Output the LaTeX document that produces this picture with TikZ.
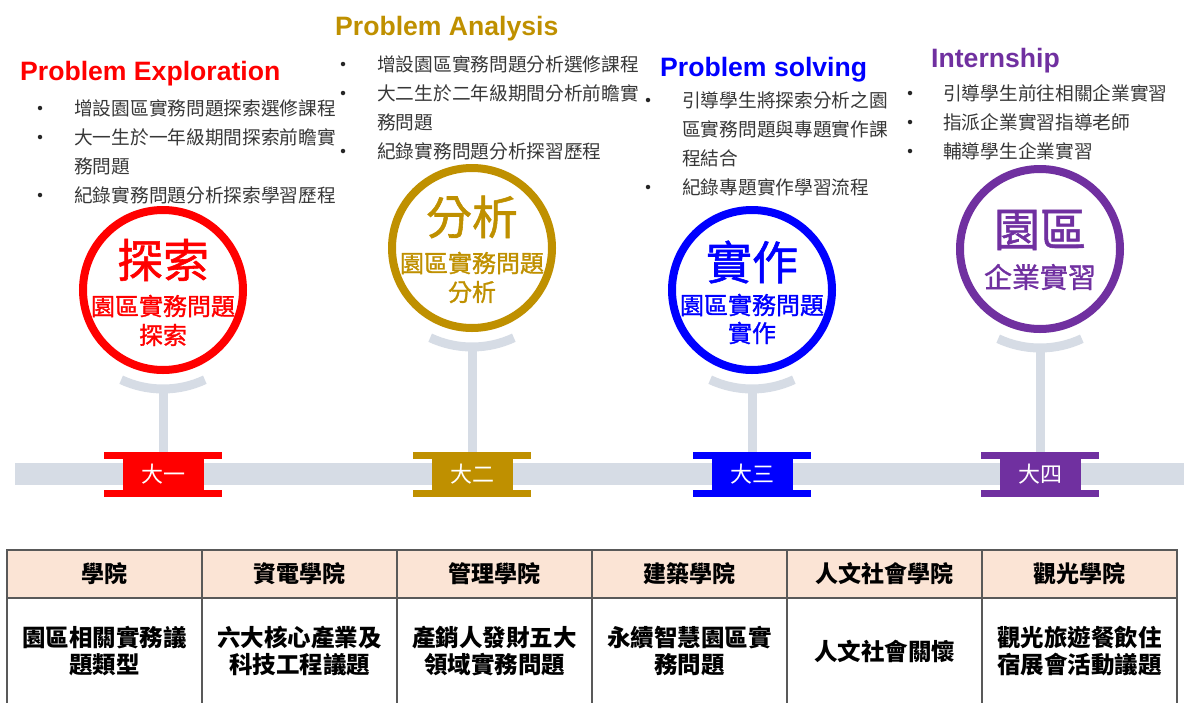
\documentclass[tikz,border=0pt]{standalone}
\usepackage{fontspec}
\setmainfont{Liberation Sans}
\newfontfamily\cjk{Noto Sans CJK TC}
\newfontfamily\cjkmid{Noto Sans CJK TC}[FakeBold=1.2]
\usepackage{xcolor}
\usetikzlibrary{positioning}
\definecolor{expred}{HTML}{FF0000}
\definecolor{anagold}{HTML}{BF9000}
\definecolor{solblue}{HTML}{0000FF}
\definecolor{intpurple}{HTML}{7030A0}
\definecolor{railgray}{HTML}{D6DCE5}
\definecolor{headpeach}{HTML}{FBE4D5}

\begin{document}
\begin{tikzpicture}[x=1pt,y=-1pt,
  title/.style={anchor=base west, inner sep=0, font=\bfseries\fontsize{26.6}{30}\selectfont},
  item/.style={anchor=west, inner sep=0, text=black!78, font=\cjk\fontsize{18.7}{22}\selectfont, text height=16.5pt, text depth=2.2pt},
  dot/.style={circle, fill=black!85, inner sep=0, minimum size=4.5},
  ring/.style={circle, draw=#1, line width=8, minimum size=160, inner sep=0},
  big/.style={text=#1, inner sep=0, font=\cjkmid\fontsize{46}{50}\selectfont},
  sub/.style={text=#1, inner sep=0, font=\cjkmid\fontsize{24}{28}\selectfont},
  tag/.style={fill=#1, text=white, minimum width=81, minimum height=45, inner sep=0, font=\cjk\fontsize{22}{24}\selectfont},
  rail/.style={railgray, line width=9},
  head/.style={draw=black!65, line width=1.5, fill=headpeach, minimum width=195, minimum height=48, inner sep=0, outer sep=0, font=\cjk\bfseries\fontsize{23}{27}\selectfont},
  cell/.style={draw=black!65, line width=1.5, minimum width=195, minimum height=106, inner sep=0, outer sep=0, align=center, font=\cjk\bfseries\fontsize{23.5}{27}\selectfont}]
\useasboundingbox (0,0) rectangle (1184,702);

\fill[railgray] (15,463) rectangle (1184,485);

\node[ring=expred] (c1) at (163,290) {};
\node[ring=anagold] (c2) at (472,248) {};
\node[ring=solblue] (c3) at (752,290) {};
\node[ring=intpurple] (c4) at (1040,249) {};

\node[tag=expred] (t1) at (163,474.5) {大一};
\node[tag=anagold] (t2) at (472,474.5) {大二};
\node[tag=solblue] (t3) at (752,474.5) {大三};
\node[tag=intpurple] (t4) at (1040,474.5) {大四};

\foreach \c/\t/\k in {c1/t1/expred, c2/t2/anagold, c3/t3/solblue, c4/t4/intpurple} {
  \draw[rail] (\c) ++(65:99) arc[start angle=65, end angle=115, radius=99];
  \draw[rail] (\c.south) ++(0,15) -- (\t.north);
  \fill[\k] ([xshift=-18.5pt]\t.north west) rectangle ([xshift=18.5pt,yshift=-7pt]\t.north east);
  \fill[\k] ([xshift=-18.5pt]\t.south west) rectangle ([xshift=18.5pt,yshift=7pt]\t.south east);
}

\node[big=expred] (c1a) at (163,260) {探索};
\node[sub=expred] (c1b) at (163,306) {園區實務問題};
\node[sub=expred] (c1c) at (163,335) {探索};
\node[big=anagold] (c2a) at (472,217) {分析};
\node[sub=anagold] (c2b) at (472,263) {園區實務問題};
\node[sub=anagold] (c2c) at (472,292) {分析};
\node[big=solblue] (c3a) at (752,262) {實作};
\node[sub=solblue] (c3b) at (752,305) {園區實務問題};
\node[sub=solblue] (c3c) at (752,333) {實作};
\node[big=intpurple] (c4a) at (1040,230) {園區};
\node[sub=intpurple, font=\cjkmid\fontsize{28}{32}\selectfont] (c4b) at (1040,277) {企業實習};

\node[title, text=expred] (p1) at (20,80) {Problem Exploration};
\node[title, text=anagold] (p2) at (335,35) {Problem Analysis};
\node[title, text=solblue] (p3) at (660,76) {Problem solving};
\node[title, text=intpurple] (p4) at (931,67) {Internship};

\foreach \y/\s in {108/增設園區實務問題探索選修課程, 137/大一生於一年級期間探索前瞻實, 166/務問題, 195/紀錄實務問題分析探索學習歷程}
  \node[item] (e\y) at (74,\y) {\s};
\foreach \y/\s in {64/增設園區實務問題分析選修課程, 93/大二生於二年級期間分析前瞻實, 122/務問題, 151/紀錄實務問題分析探習歷程}
  \node[item] (a\y) at (377,\y) {\s};
\foreach \y/\s in {100/引導學生將探索分析之園, 129/區實務問題與專題實作課, 158/程結合, 187/紀錄專題實作學習流程}
  \node[item] (s\y) at (682,\y) {\s};
\foreach \y/\s in {93/引導學生前往相關企業實習, 122/指派企業實習指導老師, 151/輔導學生企業實習}
  \node[item] (i\y) at (943,\y) {\s};

\foreach \x/\y in {40/108, 40/137, 40/195, 343/64, 343/93, 343/151, 648/100, 648/187, 910/93, 910/122, 910/151}
  \node[dot] (d\x-\y) at (\x,\y) {};

\foreach \i/\h/\b in {1/學院/{園區相關實務議\\題類型}, 2/資電學院/{六大核心產業及\\科技工程議題}, 3/管理學院/{產銷人發財五大\\領域實務問題}, 4/建築學院/{永續智慧園區實\\務問題}, 5/人文社會學院/人文社會關懷, 6/觀光學院/{觀光旅遊餐飲住\\宿展會活動議題}} {
  \node[head] (h\i) at ({104.5+195*(\i-1)},574) {\h};
  \node[cell, below=0pt of h\i] (b\i) {\b};
}
\end{tikzpicture}
\end{document}
